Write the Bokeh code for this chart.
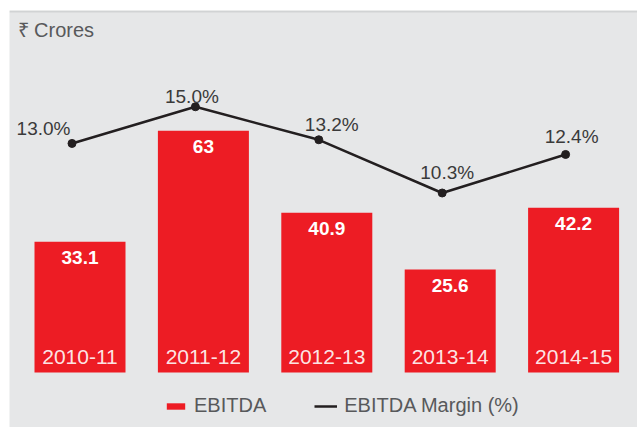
from bokeh.plotting import figure
from bokeh.models import Range1d, ColumnDataSource, Legend, LegendItem, Span
from bokeh.core.properties import value
from bokeh.embed import file_html
from bokeh.resources import INLINE

years = ["2010-11", "2011-12", "2012-13", "2013-14", "2014-15"]
ebitda = [33.1, 63, 40.9, 25.6, 42.2]
margin = [13.0, 15.0, 13.2, 10.3, 12.4]
margin_labels = ["13.0%", "15.0%", "13.2%", "10.3%", "12.4%"]
ebitda_labels = ["33.1", "63", "40.9", "25.6", "42.2"]

# styling / layout (pixels)
label_dx_px = [-36.5, -11.5, 5, -3, -2]
label_dy_px = [15, 10, 15, 20, 18]
line_dodge_px = -8

BG = "#e6e7e8"
RED = "#ed1c24"
DARK = "#231f20"
GREY = "#58595b"
FONT_NAME = "Liberation Sans"
FONT = value(FONT_NAME)

W, H = 637, 427
fx0, fy0 = 9, 10          # frame top-left on canvas
px_x = 123.4               # px per category
k1 = 3.712                 # px per EBITDA unit
zero1 = 364                # canvas y of EBITDA zero
k2 = 18.35                 # px per margin unit
zero2 = 381.5              # canvas y of margin zero

x_start = -(79.5 - fx0) / px_x
x_end = x_start + (W - fx0) / px_x
y1_end = (zero1 - fy0) / k1
y1_start = (zero1 - H) / k1
y2_end = (zero2 - fy0) / k2
y2_start = (zero2 - H) / k2

p = figure(width=W, height=H, output_backend="svg", toolbar_location=None,
           x_range=Range1d(x_start, x_end), y_range=Range1d(y1_start, y1_end),
           x_axis_location=None, y_axis_location=None,
           min_border_left=fx0, min_border_right=0, min_border_top=fy0, min_border_bottom=0)
p.extra_y_ranges = {"margin": Range1d(y2_start, y2_end)}
p.grid.visible = False
p.background_fill_color = BG
p.border_fill_color = "white"
p.outline_line_color = None

xs = list(range(len(years)))
base = (zero1 - 372) / k1

src = ColumnDataSource(dict(x=xs, top=ebitda, year=years, lab=ebitda_labels,
                            laby=[v - 16 / k1 for v in ebitda],
                            yeary=[base + 15.5 / k1] * len(years)))
bars = p.vbar(x="x", top="top", bottom=base, width=91 / px_x, source=src,
              fill_color=RED, line_color=None)
p.text(x="x", y="laby", text="lab", source=src, text_color="white",
       text_font=FONT, text_font_size="19px", text_font_style="bold",
       text_align="center", text_baseline="middle")
p.text(x="x", y="yeary", text="year", source=src, text_color="white",
       text_alpha=0.9, text_font=FONT, text_font_size="21px",
       text_align="center", text_baseline="middle")

lx = [x + line_dodge_px / px_x for x in xs]
line = p.line(lx, margin, y_range_name="margin", line_color=DARK, line_width=2.5)
p.scatter(lx, margin, y_range_name="margin", size=8, fill_color=DARK, line_color=DARK)

tx = [x + d / px_x for x, d in zip(xs, label_dx_px)]
ty = [m + d / k2 for m, d in zip(margin, label_dy_px)]
p.text(tx, ty, text=margin_labels, y_range_name="margin", text_color="#3a3a3a",
       text_font=FONT, text_font_size="19px", text_align="center", text_baseline="middle")

# title
p.text([x_start + (17 - fx0) / px_x], [(zero1 - 29) / k1], text=["₹ Crores"],
       text_color=GREY, text_font=FONT, text_font_size="20px",
       text_align="left", text_baseline="middle")

# top stripe
p.add_layout(Span(location=(zero1 - 11) / k1, dimension="width",
                  line_color="#d1d3d4", line_width=2))

legend = Legend(items=[LegendItem(label="EBITDA", renderers=[bars]),
                       LegendItem(label="EBITDA Margin (%)", renderers=[line])],
                orientation="horizontal", location=(155, 10),
                glyph_width=23, glyph_height=8, label_standoff=7, spacing=48,
                padding=0, margin=0, border_line_color=None,
                background_fill_alpha=0, label_text_font=FONT_NAME,
                label_text_font_size="20px", label_text_color=GREY, label_height=20)
p.add_layout(legend)

open("out.html", "w").write(file_html(p, INLINE))
